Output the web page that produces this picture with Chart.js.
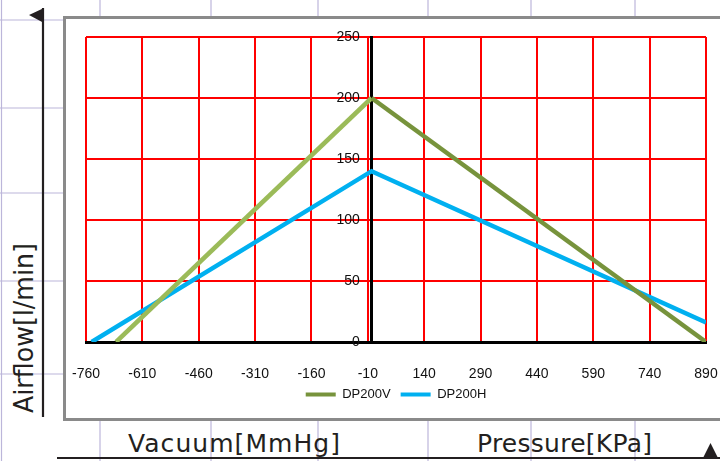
<!DOCTYPE html>
<html>
<head>
<meta charset="utf-8">
<title>DP200 airflow</title>
<script src="https://cdn.jsdelivr.net/npm/chart.js@4.4.1/dist/chart.umd.min.js"></script>
<style>
  body { margin: 0; background: #fff; }
  #page { position: relative; width: 720px; height: 461px; overflow: hidden; }
  #bg, #chart-box { position: absolute; left: 0; top: 0; }
  .title { font-family: "DejaVu Sans", sans-serif; fill: #231f20; }
</style>
</head>
<body>
<div id="page">
  <svg id="bg" width="720" height="461">
    <g id="paper-lines" stroke="#bcb6da" stroke-width="1.2"></g>
    <rect x="64.5" y="17.5" width="700" height="402" fill="#fff" stroke="#8a8a8a" stroke-width="3"/>
    <line x1="43" y1="8" x2="43" y2="417" stroke="#231f20" stroke-width="2.2"/>
    <polygon points="29,15 44,8 44,23" fill="#231f20"/>
    <line x1="57" y1="458" x2="720" y2="458" stroke="#231f20" stroke-width="2.2"/>
    <polygon points="703,458 718,458 710.5,443" fill="#231f20"/>
    <text class="title" font-size="26" textLength="170" lengthAdjust="spacingAndGlyphs" transform="translate(33,413) rotate(-90)">Airflow[l/min]</text>
    <text class="title" x="128" y="452" font-size="25" textLength="212" lengthAdjust="spacing">Vacuum[MmHg]</text>
    <text class="title" x="477" y="452" font-size="25" textLength="175" lengthAdjust="spacing">Pressure[KPa]</text>
  </svg>
  <div id="chart-box"><canvas id="airflow-chart" width="720" height="461"></canvas></div>
</div>
<script>
// values
const seriesNames = ["DP200V", "DP200H"];
const dp200vPressure = [-680, 0, 890];
const dp200vFlow = [0, 200, 0];
const dp200hPressure = [-745, 0, 890];
const dp200hFlow = [0, 140, 16];
const xTickLabels = [-760, -610, -460, -310, -160, -10, 140, 290, 440, 590, 740, 890];
const yTickLabels = [0, 50, 100, 150, 200, 250];

// background paper grid
const paper = document.getElementById("paper-lines");
[1.5, 100, 211, 318, 428, 531, 635].forEach((x) => {
  paper.innerHTML += `<line x1="${x}" y1="0" x2="${x}" y2="461"/>`;
});
[20, 108, 193, 281, 374].forEach((y) => {
  paper.innerHTML += `<line x1="0" y1="${y}" x2="720" y2="${y}"/>`;
});

const tickFont = { family: "'Liberation Sans', Arial, sans-serif", size: 14 };

function points(xs, ys) {
  return xs.map((x, i) => ({ x: x, y: ys[i] }));
}

new Chart(document.getElementById("airflow-chart"), {
  type: "line",
  data: {
    datasets: [
      {
        label: seriesNames[0],
        data: points(dp200vPressure, dp200vFlow),
        borderColor: "#77933c",
        backgroundColor: "#77933c",
        borderWidth: 4.5,
        pointRadius: 0,
        segment: {
          // the vacuum side is drawn in the lighter green
          borderColor: (ctx) => (ctx.p0.parsed.x < 0 ? "#9bbb59" : "#77933c"),
        },
      },
      {
        label: seriesNames[1],
        data: points(dp200hPressure, dp200hFlow),
        borderColor: "#00b0f0",
        backgroundColor: "#00b0f0",
        borderWidth: 4.5,
        pointRadius: 0,
      },
    ],
  },
  options: {
    responsive: false,
    animation: false,
    layout: { padding: { left: 86, top: 37, right: 14, bottom: 50 } },
    scales: {
      x: {
        type: "linear",
        min: xTickLabels[0],
        max: xTickLabels[xTickLabels.length - 1],
        afterBuildTicks: (scale) => {
          scale.ticks = xTickLabels.map((v) => ({ value: v }));
        },
        afterFit: (scale) => {
          scale.height = 36;
        },
        // invisible tick marks push the labels down (ticks.padding would also pad the sides)
        grid: { color: "#ff0000", lineWidth: 2, drawTicks: true, tickLength: 24, tickColor: "rgba(0,0,0,0)" },
        border: { color: "#000", width: 3 },
        ticks: { padding: 0, color: "#111", font: tickFont },
      },
      y: {
        min: yTickLabels[0],
        max: yTickLabels[yTickLabels.length - 1],
        position: { x: 0 },
        afterBuildTicks: (scale) => {
          scale.ticks = yTickLabels.map((v) => ({ value: v }));
        },
        grid: {
          color: (ctx) => (ctx.tick && ctx.tick.value === 0 ? "rgba(0,0,0,0)" : "#ff0000"),
          lineWidth: 2,
          drawTicks: false,
        },
        border: { color: "#000", width: 3 },
        ticks: { color: "#111", font: tickFont, callback: (v) => v + "   " },
      },
    },
    plugins: {
      legend: {
        position: "bottom",
        labels: {
          boxWidth: 30,
          boxHeight: 4,
          padding: 10,
          color: "#111",
          font: { family: "'Liberation Sans', Arial, sans-serif", size: 13 },
          generateLabels: (chart) => {
            const items = Chart.defaults.plugins.legend.labels.generateLabels(chart);
            items.forEach((it) => { it.lineWidth = 0; });
            return items;
          },
        },
      },
      tooltip: { enabled: false },
    },
  },
});
</script>
</body>
</html>
